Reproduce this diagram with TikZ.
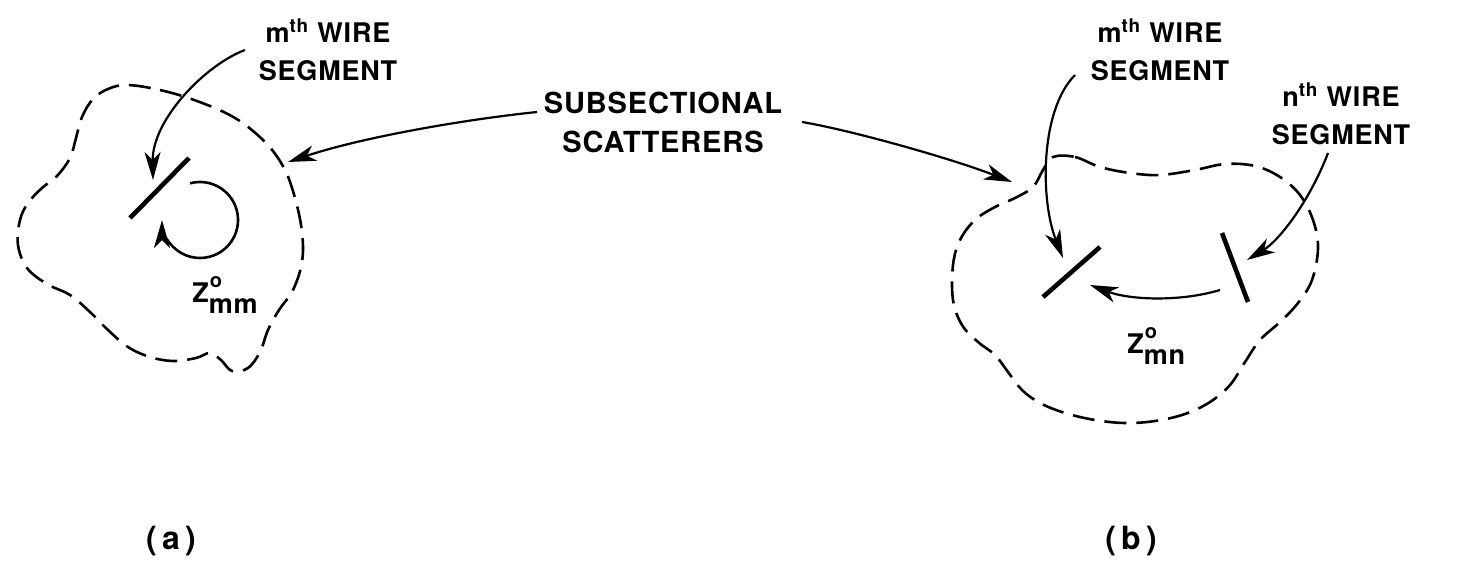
\documentclass[tikz,border=0pt]{standalone}
\usepackage{fontspec}
\setmainfont{TeX Gyre Heros}[LetterSpace=3]
\usetikzlibrary{arrows.meta}

\tikzset{
  lbl/.style={align=center, inner sep=0pt, font=\fontsize{13.5}{19}\selectfont\bfseries},
  biglbl/.style={align=center, inner sep=0pt, font=\fontsize{14.5}{19.5}\selectfont\bfseries},
  caplbl/.style={inner sep=0pt, font=\fontsize{16}{18}\selectfont\bfseries},
  wire/.style={line width=2.3pt},
  blob/.style={line width=1.3pt, dash pattern=on 11pt off 5pt},
  ptr/.style={line width=1.1pt, -{Stealth[length=14pt, width=8pt, inset=4pt]}},
  loop/.style={line width=1.3pt, -{Stealth[length=14pt, width=8pt, inset=4pt]}},
}

\newcommand{\zsym}[1]{Z\rlap{\raisebox{7.5pt}{\kern0.5pt\fontsize{10}{10}\selectfont o}}\raisebox{-5.5pt}{#1}}

\begin{document}
\begin{tikzpicture}[x=0.5pt, y=-0.5pt]
\useasboundingbox (0,0) rectangle (1466,562);

% ---- (a): self interaction of one segment ----
\draw[blob] plot[smooth cycle, tension=0.6] coordinates {
  (127,85) (160,90) (197,101) (235,118) (265,142) (284,168) (295,198)
  (302,232) (302,262) (293,290) (279,310) (268,330) (260,352) (248,368)
  (232,371) (221,360) (210,353) (196,358) (173,361) (150,357) (128,347)
  (108,330) (90,312) (70,295) (47,284) (27,268) (18,245) (20,220)
  (28,203) (42,188) (57,176) (70,158) (76,138) (82,117) (93,99) (108,89)};

\coordinate (wA1) at (130,218);
\coordinate (wA2) at (189,158);
\draw[wire] (wA1) -- (wA2);

\coordinate (loopC) at (200,220);
\draw[loop] ([shift={(-105:38)}]loopC) arc[start angle=-105, end angle=180, radius=38];

\node[lbl] (mA) at (328,50) {m\textsuperscript{th} WIRE\\SEGMENT};
\coordinate (mAs) at (245,50);
\coordinate (mAt) at (153,180);
\draw[ptr] (mAs) .. controls (205,65) and (152,120) .. (mAt);

\node[lbl, anchor=base west] (zA) at (192,302) {\zsym{mm}};

% ---- (b): mutual interaction of two segments ----
\draw[blob] plot[smooth cycle, tension=0.6] coordinates {
  (1053,157) (1075,157) (1100,167) (1130,173) (1160,175) (1195,170)
  (1225,164) (1255,166) (1280,177) (1300,195) (1313,220) (1318,248)
  (1312,280) (1298,303) (1280,322) (1260,340) (1245,362) (1230,385)
  (1210,402) (1185,414) (1155,421) (1125,423) (1095,420) (1065,413)
  (1040,403) (1022,390) (1008,372) (995,355) (978,342) (962,325)
  (953,300) (953,265) (960,240) (975,220) (995,207) (1015,198)
  (1033,187) (1043,170)};

\coordinate (wM1) at (1043,297);
\coordinate (wM2) at (1100,247);
\draw[wire] (wM1) -- (wM2);
\coordinate (wN1) at (1222,233);
\coordinate (wN2) at (1248,302);
\draw[wire] (wN1) -- (wN2);

\node[lbl] (mB) at (1160,50) {m\textsuperscript{th} WIRE\\SEGMENT};
\coordinate (mBs) at (1075,75);
\coordinate (mBt) at (1063,258);
\draw[ptr] (mBs) .. controls (1040,110) and (1040,200) .. (mBt);

\node[lbl] (nB) at (1341,114) {n\textsuperscript{th} WIRE\\SEGMENT};
\coordinate (nBs) at (1328,153);
\coordinate (nBt) at (1247,260);
\draw[ptr] (nBs) .. controls (1310,200) and (1280,240) .. (nBt);

\coordinate (zs) at (1220,290);
\coordinate (zt) at (1090,285);
\draw[ptr] (zs) .. controls (1180,302) and (1130,300) .. (zt);

\node[lbl, anchor=base west] (zB) at (1127,353) {\zsym{mn}};

% ---- shared label ----
\node[biglbl] (sc) at (663,122) {SUBSECTIONAL\\SCATTERERS};
\coordinate (scL) at (537,112);
\coordinate (scLt) at (288,162);
\coordinate (scR) at (802,122);
\coordinate (scRt) at (1012,182);
\draw[ptr] (scL) .. controls (460,120) and (360,138) .. (scLt);
\draw[ptr] (scR) .. controls (850,130) and (950,158) .. (scRt);

% ---- captions ----
\node[caplbl] (capA) at (171,541) {(\,a\,)};
\node[caplbl] (capB) at (1131,541) {(\,b\,)};
\end{tikzpicture}
\end{document}
